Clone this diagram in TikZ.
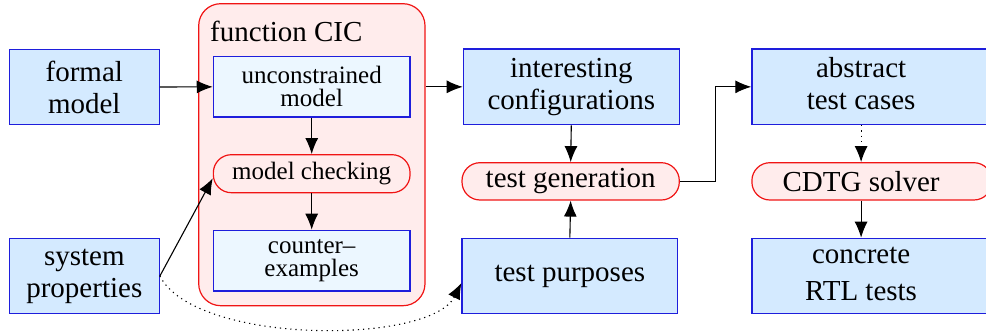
\documentclass[tikz,border=0pt]{standalone}
\usepackage{fontspec}
\newfontfamily\serif{Liberation Serif}
\usetikzlibrary{arrows.meta}

\definecolor{boxblue}{RGB}{212,234,255}
\definecolor{paleblue}{RGB}{236,247,255}
\definecolor{pinkfill}{RGB}{255,236,236}
\definecolor{edgeblue}{RGB}{30,30,220}
\definecolor{edgered}{RGB}{240,20,20}

\tikzset{
	bigtxt/.style={font=\serif\fontsize{29}{32}\selectfont, align=center},
	smalltxt/.style={font=\serif\fontsize{25}{23}\selectfont, align=center},
	bluebox/.style={draw=edgeblue, fill=boxblue, line width=1.2pt, inner sep=0pt, bigtxt},
	innerbox/.style={draw=edgeblue, fill=paleblue, line width=1.2pt, inner sep=0pt, smalltxt},
	pill/.style={draw=edgered, fill=pinkfill, line width=1.2pt, inner sep=0pt},
	flow/.style={-{Latex[length=16pt,width=13pt]}, line width=1.1pt},
	sparse/.style={dash pattern=on 1.2pt off 4pt},
}

\begin{document}
\begin{tikzpicture}[x=1pt, y=-1pt]
	\useasboundingbox (0,0) rectangle (986,334);
	\clip (0,0) rectangle (986,334);
	\node[pill, rounded corners=22pt, minimum width=226.3pt, minimum height=302pt] (cic) at (311.85,154.7) {};
	\node[anchor=base west, font=\serif\fontsize{29}{32}\selectfont] (cictitle) at (206.7,41.7) {function CIC};
	\node[bluebox, minimum width=150pt, minimum height=75.7pt] (fm) at (84.3,87) {formal\\model};
	\node[bluebox, minimum width=150pt, minimum height=75.4pt] (sp) at (84.3,276) {system\\properties};
	\node[innerbox, minimum width=196.7pt, minimum height=60.3pt] (um) at (311.7,86.85) {unconstrained\\model};
	\node[pill, smalltxt, rounded corners=18pt, minimum width=196.7pt, minimum height=38pt] (mc) at (311.7,173.7) {model checking};
	\node[innerbox, minimum width=196.7pt, minimum height=60.7pt] (ce) at (311.7,260.65) {counter–\\examples};
	\node[bluebox, minimum width=216pt, minimum height=75.7pt] (ic) at (571.3,86.85) {interesting\\configurations};
	\node[pill, bigtxt, rounded corners=18pt, minimum width=217.3pt, minimum height=37.3pt] (tg) at (570.65,181.35) {test generation};
	\node[bluebox, minimum width=215.7pt, minimum height=75.4pt] (tp) at (569.85,276) {test purposes};
	\node[bluebox, anchor=west, minimum width=240pt, minimum height=75.7pt] (atc) at (751.3,86.85) {\begin{tabular}{@{}c@{}}abstract\\test cases\end{tabular}\hspace*{21.6pt}};
	\node[pill, bigtxt, rounded corners=18pt, anchor=west, minimum width=240pt, minimum height=37.3pt] (cdtg) at (751.3,181.35) {CDTG solver\hspace*{21.6pt}};
	\node[bluebox, anchor=west, minimum width=240pt, minimum height=75.4pt] (crt) at (751.3,276) {\begin{tabular}{@{}c@{}}concrete\\[5pt]RTL tests\end{tabular}\hspace*{21.6pt}};
	\draw[flow] (fm.east) -- (um.west);
	\draw[flow] (um.south) -- (mc.north);
	\draw[flow] (mc.south) -- (ce.north);
	\draw[flow] (sp.east) -- ([yshift=-4.6pt]mc.west);
	\draw[flow] (cic.east |- ic.west) -- (ic.west);
	\draw[flow] (ic.south) -- (tg.north);
	\draw[flow] (tp.north) -- (tg.south);
	\draw[flow] (tg.east) -- ++(36,0) |- (atc.west);
	\draw[flow, sparse] ([xshift=-10.8pt]atc.south) -- ([xshift=-10.8pt]cdtg.north);
	\draw[flow] ([xshift=-10.8pt]cdtg.south) -- ([xshift=-10.8pt]crt.north);
	\draw[flow, sparse] (sp.east) .. controls (195,345) and (430,345) .. ([yshift=-7pt]tp.west);
\end{tikzpicture}
\end{document}
